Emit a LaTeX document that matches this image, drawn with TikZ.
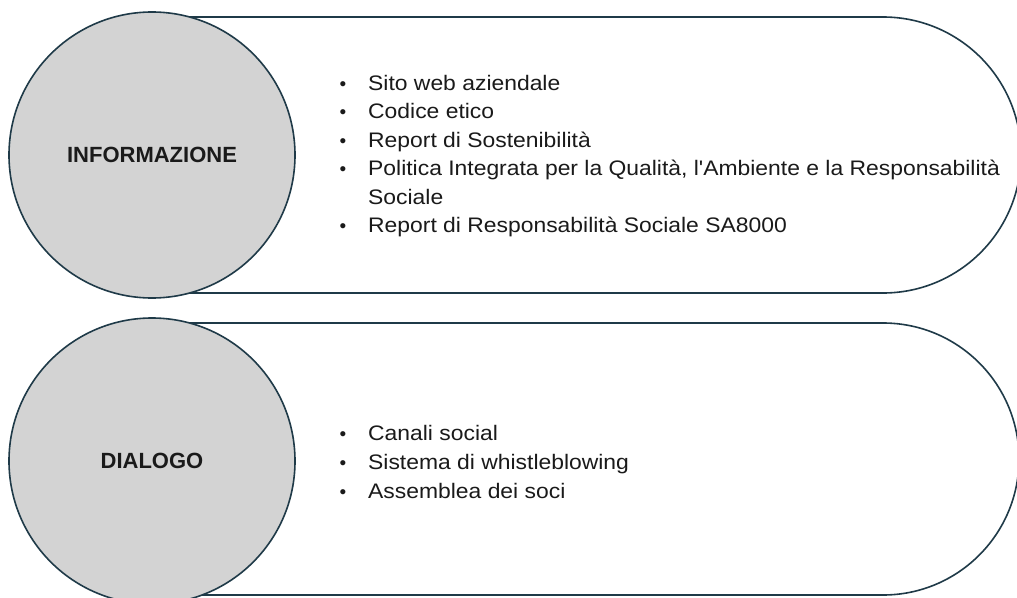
\documentclass[tikz,border=0pt]{standalone}
\usepackage{fontspec}
\setmainfont{Liberation Sans}
\newfontfamily\widesans[FakeStretch=1.09]{Liberation Sans}
\definecolor{edge}{HTML}{1F3A48}
\definecolor{disc}{HTML}{D3D3D3}
\definecolor{ink}{HTML}{1A1A1A}
\tikzset{
  pill/.style={draw=edge, line width=1.6pt, fill=white},
  disk/.style={circle, draw=edge, line width=1.6pt, fill=disc, minimum size=286pt, inner sep=0pt},
  head/.style={font=\fontsize{22}{26}\selectfont\bfseries, text=ink},
  item/.style={anchor=base west, font=\widesans\fontsize{21}{25}\selectfont, text=ink, inner sep=0pt},
  dot/.style={anchor=base, font=\fontsize{19}{25}\selectfont, text=ink, inner sep=0pt}
}
\begin{document}
\begin{tikzpicture}[x=1pt, y=-1pt]
\useasboundingbox (0,0) rectangle (1017,597);
% top row
\draw[pill] (160,17) -- (883,17) arc[start angle=-90, end angle=90, radius=138] -- (160,293) -- cycle;
\node[disk] (info) at (152,155) {};
\node[head] (infot) at (info.center) {INFORMAZIONE};
\foreach \y/\n/\t in {90/a/{Sito web aziendale}, 118.5/b/{Codice etico}, 147/c/{Report di Sostenibilità}, 175.5/d/{Politica Integrata per la Qualità, l'Ambiente e la Responsabilità}, 232.5/e/{Report di Responsabilità Sociale SA8000}}{
  \node[dot] (b\n) at (343,\y) {•};
  \node[item] (t\n) at (368,\y) {\t};
}
\node[item] (td2) at (368,204) {Sociale};
% bottom row
\draw[pill] (160,323) -- (883,323) arc[start angle=-90, end angle=90, radius=136] -- (160,595) -- cycle;
\node[disk] (dial) at (152,461) {};
\node[head] (dialt) at (dial.center) {DIALOGO};
\foreach \y/\n/\t in {440/f/{Canali social}, 469/g/{Sistema di whistleblowing}, 498/h/{Assemblea dei soci}}{
  \node[dot] (b\n) at (343,\y) {•};
  \node[item] (t\n) at (368,\y) {\t};
}
\end{tikzpicture}
\end{document}
